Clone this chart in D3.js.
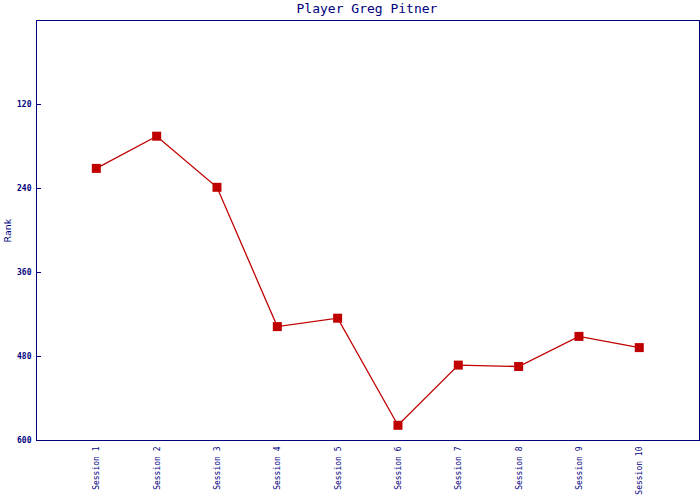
<!DOCTYPE html>
<html>
<head>
<meta charset="utf-8">
<script src="https://cdn.jsdelivr.net/npm/d3@7"></script>
<style>
  html, body { margin: 0; padding: 0; background: #fff; }
  svg { display: block; }
</style>
</head>
<body>
<svg id="chart" width="700" height="500"></svg>
<script>
const sessions = ["Session 1","Session 2","Session 3","Session 4","Session 5","Session 6","Session 7","Session 8","Session 9","Session 10"];
const ranks = [212, 166, 239, 438, 426, 579, 493, 495, 452, 468];
const yTicks = [120, 240, 360, 480, 600];
const title = "Player Greg Pitner";
const yTitle = "Rank";

const navy = "#000080";
const red = "#c00000";
const mono = "'DejaVu Sans Mono', monospace";

const svg = d3.select("#chart");
const pLeft = 36.5, pRight = 699.5, pTop = 20.5, pBottom = 440.5;

const x = d3.scalePoint().domain(sessions).range([36, 699.6]).padding(1);
const y = d3.scaleLinear().domain([0, 600]).range([20, 440]);

// frame
svg.append("rect")
  .attr("x", pLeft).attr("y", pTop)
  .attr("width", pRight - pLeft).attr("height", pBottom - pTop)
  .attr("fill", "none").attr("stroke", navy).attr("stroke-width", 1)
  .attr("shape-rendering", "crispEdges");

// title
svg.append("text")
  .attr("x", 367).attr("y", 13)
  .attr("text-anchor", "middle")
  .attr("font-family", mono).attr("font-size", 13)
  .attr("fill", navy)
  .text(title);

// y axis
const yAxis = svg.append("g")
  .attr("transform", `translate(${pLeft},0)`)
  .call(d3.axisLeft(y).tickValues(yTicks).tickSizeInner(-4).tickSizeOuter(0).tickPadding(5));
yAxis.select(".domain").remove();
yAxis.selectAll(".tick line").attr("stroke", navy).attr("shape-rendering", "crispEdges");
yAxis.selectAll(".tick text")
  .attr("font-family", mono).attr("font-size", 8).attr("font-weight", "bold")
  .attr("fill", navy);

// y title
svg.append("text")
  .attr("transform", `translate(11,${(pTop + pBottom) / 2}) rotate(-90)`)
  .attr("text-anchor", "middle")
  .attr("font-family", "'DejaVu Sans', sans-serif").attr("font-size", 9.5)
  .attr("fill", navy)
  .text(yTitle);

// x axis
const xAxis = svg.append("g")
  .attr("transform", `translate(0,${pBottom})`)
  .call(d3.axisBottom(x).tickSize(0));
xAxis.select(".domain").remove();
xAxis.selectAll(".tick text")
  .attr("transform", "rotate(-90)")
  .attr("text-anchor", "end")
  .attr("x", -6).attr("y", 0).attr("dy", "0.32em")
  .attr("font-family", mono).attr("font-size", 8)
  .attr("fill", navy);

// line
const line = d3.line().x((d, i) => x(sessions[i])).y(d => y(d));
svg.append("path")
  .datum(ranks)
  .attr("d", line)
  .attr("fill", "none").attr("stroke", red).attr("stroke-width", 1.3);

// markers
const s = 9;
svg.selectAll("rect.pt")
  .data(ranks)
  .enter().append("rect")
  .attr("class", "pt")
  .attr("x", (d, i) => x(sessions[i]) - s / 2)
  .attr("y", d => y(d) - s / 2)
  .attr("width", s).attr("height", s)
  .attr("fill", red);
</script>
</body>
</html>
